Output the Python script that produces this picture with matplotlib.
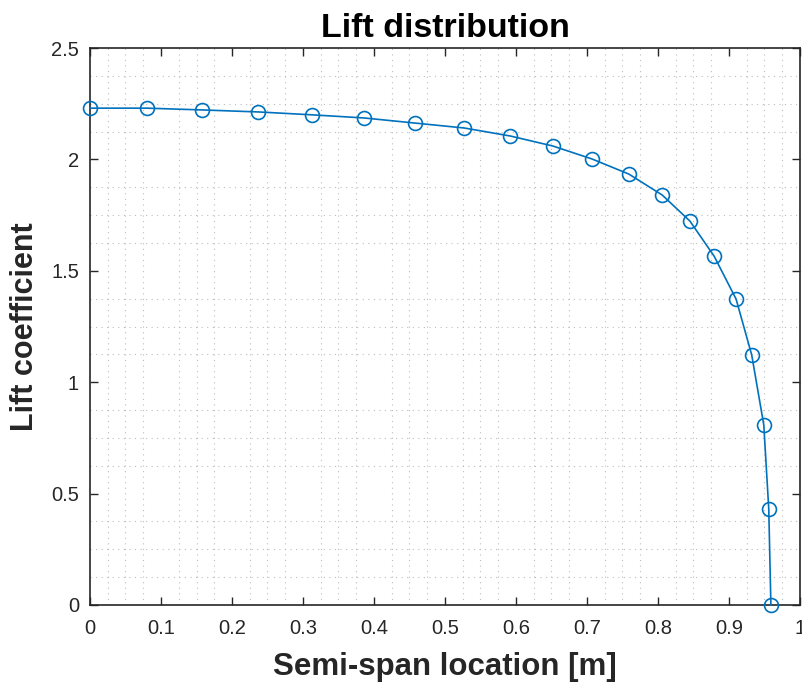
import matplotlib
matplotlib.use("Agg")
import matplotlib.pyplot as plt
from matplotlib.ticker import MultipleLocator
import numpy as np

plt.rcParams['font.family'] = ['Liberation Sans', 'DejaVu Sans']

x = [0.0, 0.080, 0.158, 0.237, 0.313, 0.386, 0.458, 0.527, 0.592, 0.652,
     0.707, 0.759, 0.806, 0.845, 0.879, 0.910, 0.932, 0.949, 0.956, 0.959]
cl = [2.23, 2.23, 2.222, 2.213, 2.200, 2.186, 2.163, 2.141, 2.105, 2.060,
      2.002, 1.934, 1.840, 1.723, 1.566, 1.373, 1.122, 0.808, 0.431, 0.0]
xticks = [0, 0.1, 0.2, 0.3, 0.4, 0.5, 0.6, 0.7, 0.8, 0.9, 1]
yticks = [0, 0.5, 1, 1.5, 2, 2.5]

fig = plt.figure(figsize=(8.03, 6.84), dpi=100)
ax = fig.add_axes([90/803, 1-605/684, 710/803, 557/684])
ax.plot(x, cl, '-o', color='#0072BD', lw=1.2, ms=10, mfc='none', mew=1.2, clip_on=False, zorder=3)
ax.set_xlim(0, 1)
ax.set_ylim(0, 2.5)
ax.set_xticks(xticks)
ax.set_yticks(yticks)
ax.set_xticklabels([f"{v:g}" for v in xticks])
ax.set_yticklabels([f"{v:g}" for v in yticks])
ax.xaxis.set_minor_locator(MultipleLocator(0.025))
ax.yaxis.set_minor_locator(MultipleLocator(0.125))
ax.grid(which='minor', linestyle=(0, (1, 4)), color='#bdbdbd', lw=0.8)
ax.grid(which='major', visible=False)
ax.tick_params(which='major', direction='in', top=True, right=True, length=6, width=1, labelsize=14.5, colors='#262626')
ax.tick_params(axis='x', which='major', pad=10)
ax.tick_params(axis='y', which='major', pad=8)
ax.tick_params(which='minor', length=0, top=True, right=True)
for s in ax.spines.values():
    s.set_color('#262626')
    s.set_linewidth(1.2)
ax.set_title('Lift distribution', fontsize=24.5, fontweight='bold', color='black', pad=8)
ax.set_xlabel('Semi-span location [m]', fontsize=22.5, fontweight='bold', color='#262626', labelpad=10)
ax.set_ylabel('Lift coefficient', fontsize=22, fontweight='bold', color='#262626', labelpad=8)
fig.savefig('out.png', dpi=100)
